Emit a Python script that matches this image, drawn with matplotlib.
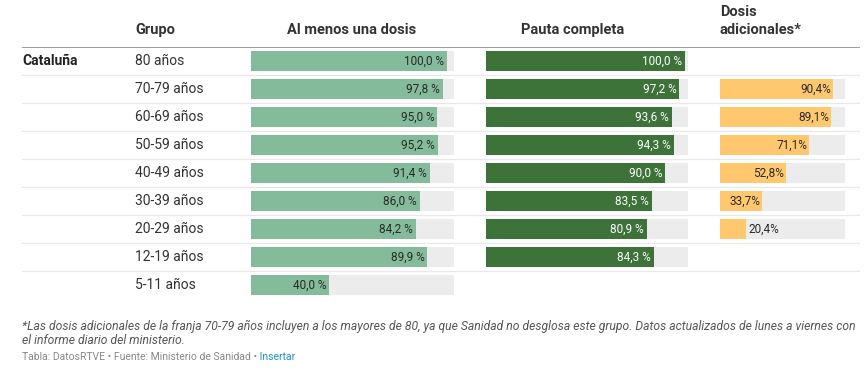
import matplotlib.pyplot as plt
import numpy as np

plt.rcParams['font.family'] = ['Roboto', 'DejaVu Sans']

# datos
grupos = ['80 años', '70-79 años', '60-69 años', '50-59 años', '40-49 años',
          '30-39 años', '20-29 años', '12-19 años', '5-11 años']
una_dosis = [100.0, 97.8, 95.0, 95.2, 91.4, 86.0, 84.2, 89.9, 40.0]
pauta_completa = [100.0, 97.2, 93.6, 94.3, 90.0, 83.5, 80.9, 84.3, None]
dosis_adicionales = [None, 90.4, 89.1, 71.1, 52.8, 33.7, 20.4, None, None]

W, H = 864, 376
fig = plt.figure(figsize=(W / 100, H / 100), dpi=100)

top, bottom = 47, 299  # pixeles de la tabla
n = len(grupos)
y = np.arange(n)


def px_axes(x0, x1):
    return fig.add_axes([x0 / W, (H - bottom) / H, (x1 - x0) / W, (bottom - top) / H])


# fondo: lineas y textos de filas
base = px_axes(22, 860)
base.set_xlim(22, 860)
base.set_ylim(n - 0.5, -0.5)
base.axis('off')
base.axhline(-0.5, color='#8c8c8c', lw=1.2)
for k in range(n - 1):
    base.axhline(k + 0.5, color='#e8e8e8', lw=0.9)
base.text(22, 0, 'Cataluña', fontsize=10, fontweight='bold', color='#222222', va='center')
for i, g in enumerate(grupos):
    base.text(135, i, g, fontsize=10, color='#333333', va='center')

cols = [
    (una_dosis, 251, 454, 103.5, '#83bb9b', '#2a2a2a', '{:.1f} %'),
    (pauta_completa, 486, 688, 101.5, '#3d7339', 'white', '{:.1f} %'),
    (dosis_adicionales, 720, 845, 100.0, '#ffc86f', '#2a2a2a', '{:.1f}%'),
]
for vals, x0, x1, vmax, color, tcolor, fmt in cols:
    ax = px_axes(x0, x1)
    ax.set_xlim(0, vmax)
    ax.set_ylim(n - 0.5, -0.5)
    ax.axis('off')
    for i, v in enumerate(vals):
        if v is None:
            continue
        ax.barh(i, vmax, height=0.72, color='#ececec', lw=0)
        ax.barh(i, v, height=0.72, color=color, lw=0)
        label = fmt.format(v).replace('.', ',')
        if v < 25:
            ax.text(v + 2, i, label, fontsize=8.5, color='#2a2a2a', va='center', ha='left')
        else:
            ax.text(v - 1.5 * vmax / 100, i, label, fontsize=8.5, color=tcolor,
                    va='center', ha='right')

# cabeceras
hy = 1 - 30 / H
fig.text(135 / W, hy, 'Grupo', fontsize=10.5, fontweight='bold', color='#333333', va='center')
fig.text(352 / W, hy, 'Al menos una dosis', fontsize=10.5, fontweight='bold',
         color='#333333', va='center', ha='center')
fig.text(573 / W, hy, 'Pauta completa', fontsize=10.5, fontweight='bold',
         color='#333333', va='center', ha='center')
fig.text(720 / W, 1 - 21 / H, 'Dosis\nadicionales*', fontsize=10.5, fontweight='bold',
         color='#333333', va='center', ha='left', linespacing=1.4)

# notas
fig.text(22 / W, 1 - 326 / H,
         '*Las dosis adicionales de la franja 70-79 años incluyen a los mayores de 80, ya que '
         'Sanidad no desglosa este grupo. Datos actualizados de lunes a viernes con',
         fontsize=8.7, style='italic', color='#555555', va='center')
fig.text(22 / W, 1 - 341 / H, 'el informe diario del ministerio.',
         fontsize=8.7, style='italic', color='#555555', va='center')
t = fig.text(22 / W, 1 - 357 / H, 'Tabla: DatosRTVE • Fuente: Ministerio de Sanidad •',
             fontsize=7.5, color='#888888', va='center')
fig.canvas.draw()
bb = t.get_window_extent()
fig.text(bb.x1 / W, 1 - 357 / H, ' Insertar', fontsize=7.5, color='#1a8fd8', va='center')

fig.savefig('out.png', dpi=100)
